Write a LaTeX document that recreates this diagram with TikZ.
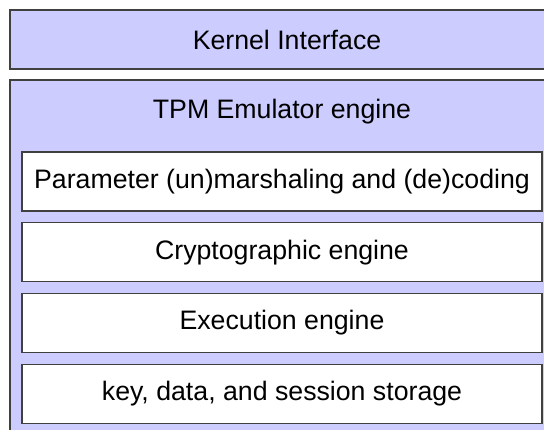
\documentclass[tikz,border=0pt]{standalone}
\usepackage{fontspec}
\setmainfont{Liberation Sans}
\usetikzlibrary{positioning}

\tikzset{
  layer/.style={draw=black!75, fill=blue!20, line width=1.1pt},
  stage/.style={draw=black!75, fill=white, line width=1.1pt, minimum width=520pt,
    minimum height=59pt, inner sep=0pt, outer sep=0pt, font=\fontsize{26.7}{30}\selectfont},
  caption/.style={inner sep=0pt, font=\fontsize{26.7}{30}\selectfont}
}

\begin{document}
\begin{tikzpicture}[x=1pt,y=-1pt]
    \useasboundingbox (0,0) rectangle (544,430);
    \clip (0,0) rectangle (544,430);

    % Outer layers (run past the right and lower edge)
    \draw[layer] (10,10) rectangle (565,69);
    \node[caption] (kernel) at (287,40) {Kernel Interface};
    \draw[layer] (10,80) rectangle (565,445);
    \node[caption] (engine) at (282,111.5) {TPM Emulator engine};

    % Inner stages of the engine
    \node[stage] (param) at (282,181.5) {Parameter (un)marshaling and (de)coding};
    \node[stage, below=11.7pt of param] (crypto) {Cryptographic engine};
    \node[stage, below=11.7pt of crypto] (exec) {Execution engine};
    \node[stage, below=11.7pt of exec] (storage) {key, data, and session storage};

\end{tikzpicture}
\end{document}
